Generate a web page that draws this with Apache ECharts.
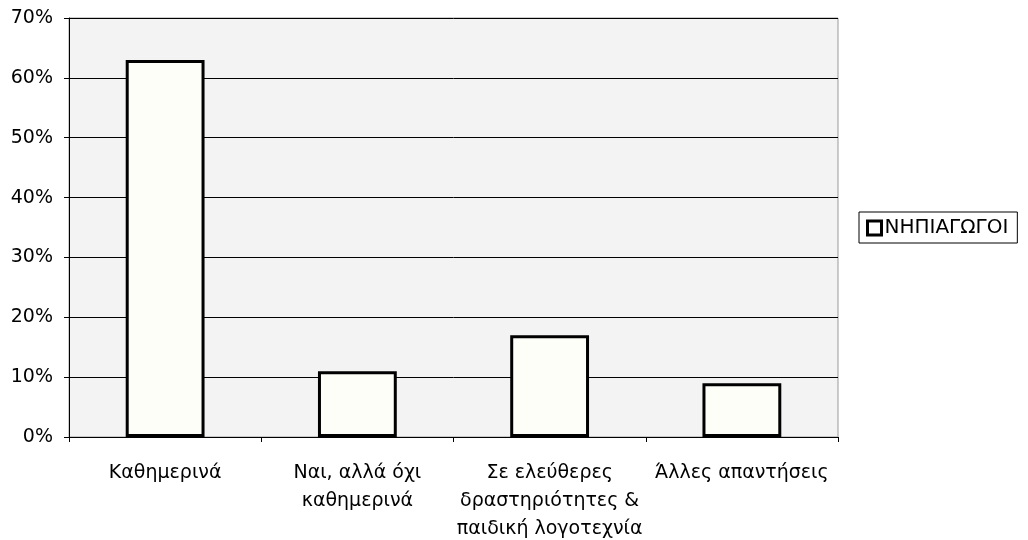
<!DOCTYPE html>
<html>
<head>
<meta charset="utf-8">
<script src="https://cdn.jsdelivr.net/npm/echarts@6/dist/echarts.min.js"></script>
<style>
	html, body { margin: 0; padding: 0; background: #fff; }
	#main { width: 1028px; height: 540px; }
</style>
</head>
<body>
<div id="main"></div>
<script>
	// categories and values
	var categories = ['Καθημερινά', 'Ναι, αλλά όχι\nκαθημερινά', 'Σε ελεύθερες\nδραστηριότητες &\nπαιδική λογοτεχνία', 'Άλλες απαντήσεις'];
	var seriesName = 'ΝΗΠΙΑΓΩΓΟΙ';
	var values = [63, 11, 17, 9];
	var yTicks = [0, 10, 20, 30, 40, 50, 60, 70];

	var font = 'DejaVu Sans, sans-serif';
	var chart = echarts.init(document.getElementById('main'));

	chart.setOption({
		animation: false,
		grid: {
			left: 69,
			right: 190,
			top: 18,
			bottom: 103,
			outerBoundsMode: 'none',
			show: true,
			backgroundColor: '#f3f3f3',
			borderColor: '#9a9a9a',
			borderWidth: 1
		},
		legend: {
			data: [seriesName],
			left: 859,
			top: 212,
			orient: 'vertical',
			icon: 'rect',
			itemWidth: 14,
			itemHeight: 14,
			itemGap: 5,
			borderColor: '#000',
			borderWidth: 1,
			padding: [6, 9, 5, 7],
			textStyle: { fontFamily: font, fontSize: 20, color: '#000', padding: [0, 0, 0, -2] },
			itemStyle: { color: '#fff', borderColor: '#000', borderWidth: 3 }
		},
		xAxis: {
			type: 'category',
			data: categories,
			boundaryGap: true,
			axisLine: { lineStyle: { color: '#000', width: 1 } },
			axisTick: { show: true, length: 5, lineStyle: { color: '#000' } },
			axisLabel: {
				interval: 0,
				margin: 22,
				fontFamily: font,
				fontSize: 19,
				lineHeight: 28,
				color: '#000'
			}
		},
		yAxis: {
			type: 'value',
			min: 0,
			max: 70,
			interval: 10,
			axisLine: { show: true, lineStyle: { color: '#000', width: 1 } },
			axisTick: { show: true, length: 5, lineStyle: { color: '#000' } },
			splitLine: { show: true, lineStyle: { color: '#000', width: 1 } },
			axisLabel: {
				margin: 16,
				fontFamily: font,
				fontSize: 19,
				color: '#000',
				formatter: function (v) {
					return yTicks.indexOf(v) >= 0 ? v + '%' : '';
				}
			}
		},
		series: [{
			name: seriesName,
			type: 'bar',
			data: values,
			barWidth: '41%',
			itemStyle: { color: '#fefef9', borderColor: '#000', borderWidth: 3 }
		}]
	});
</script>
</body>
</html>
